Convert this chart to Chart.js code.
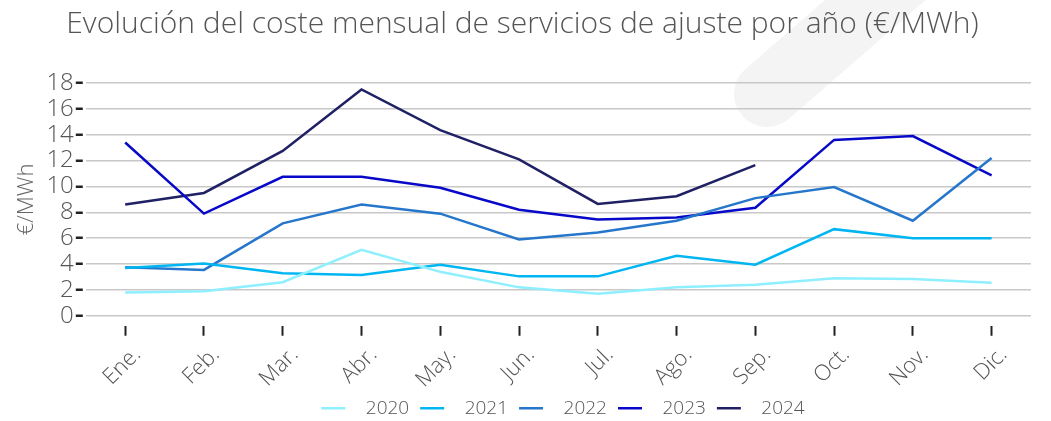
<!DOCTYPE html>
<html>
<head>
<meta charset="utf-8">
<script src="https://cdn.jsdelivr.net/npm/chart.js@4"></script>
<style>
    html,body{margin:0;padding:0;background:#fff;}
    #wrap{width:1051px;height:421px;}
</style>
</head>
<body>
<div id="wrap"><canvas id="costChart" width="1051" height="421"></canvas></div>
<script>
const months=["Ene.","Feb.","Mar.","Abr.","May.","Jun.","Jul.","Ago.","Sep.","Oct.","Nov.","Dic."];
const years=["2020","2021","2022","2023","2024"];
const v2020=[1.8,1.9,2.6,5.1,3.4,2.2,1.7,2.2,2.4,2.9,2.85,2.55];
const v2021=[3.7,4.05,3.3,3.15,3.95,3.05,3.05,4.65,3.95,6.7,6.0,6.0];
const v2022=[3.75,3.55,7.15,8.6,7.9,5.9,6.45,7.35,9.1,9.95,7.35,12.2];
const v2023=[13.4,7.9,10.75,10.75,9.9,8.2,7.45,7.6,8.35,13.6,13.9,10.85];
const v2024=[8.6,9.5,12.75,17.5,14.35,12.1,8.65,9.25,11.65,null,null,null];
const colors=["#8eefff","#00b6f2","#2677cc","#0808c8","#202064"];

// legend marker: short line with some empty room around it (sets the item spacing)
function legendLine(color){
    const c=document.createElement("canvas");
    c.width=46;
    c.height=4;
    const g=c.getContext("2d");
    g.fillStyle=color;
    g.fillRect(11,0,24,3);
    return c;
}

// faint grey logo stroke behind the plot
const watermark={
    id:"watermark",
    beforeDraw(chart){
        const ctx=chart.ctx;
        ctx.save();
        ctx.strokeStyle="#f4f4f4";
        ctx.lineWidth=66;
        ctx.lineCap="round";
        ctx.beginPath();
        ctx.moveTo(767,94);
        ctx.lineTo(910,-30);
        ctx.stroke();
        ctx.restore();
    }
};

const shiftLegend={
    id:"shiftLegend",
    afterLayout(chart){
        chart.legend.left+=35;
        chart.legend.right+=35;
    }
};

const lightFont="'Open Sans', sans-serif";

new Chart(
    document.getElementById("costChart"),
    {
        type:"line",
        data:{
            labels:months,
            datasets:[v2020,v2021,v2022,v2023,v2024].map((vals,i)=>({
                label:years[i],
                data:vals,
                borderColor:colors[i],
                backgroundColor:colors[i],
                pointStyle:legendLine(colors[i]),
                borderWidth:2.5,
                pointRadius:0,
                tension:0,
                spanGaps:false
            }))
        },
        options:{
            responsive:false,
            animation:false,
            layout:{
                padding:{left:14,right:20,top:0,bottom:-7}
            },
            plugins:{
                title:{
                    display:true,
                    text:"Evolución del coste mensual de servicios de ajuste por año (€/MWh)",
                    color:"#555",
                    font:{family:lightFont,size:30,weight:"300"},
                    padding:{top:6,bottom:41}
                },
                legend:{
                    position:"bottom",
                    labels:{
                        usePointStyle:true,
                        pointStyleWidth:46,
                        boxHeight:4,
                        color:"#555",
                        font:{family:lightFont,size:19,weight:"300"},
                        padding:0
                    }
                },
                tooltip:{enabled:false}
            },
            scales:{
                x:{
                    offset:true,
                    border:{display:false},
                    grid:{
                        drawOnChartArea:false,
                        tickLength:20,
                        tickColor:"#222",
                        tickWidth:2,
                        tickBorderDash:[0,10,10]
                    },
                    ticks:{
                        color:"#555",
                        font:{family:lightFont,size:22,weight:"300"},
                        minRotation:45,
                        maxRotation:45,
                        labelOffset:12,
                        padding:6
                    }
                },
                y:{
                    min:0,
                    max:18,
                    border:{display:false},
                    grid:{
                        color:"#c8c8c8",
                        lineWidth:1.5,
                        tickLength:10,
                        tickColor:"#222",
                        tickWidth:2.5,
                        tickBorderDash:[7,10]
                    },
                    ticks:{
                        stepSize:2,
                        autoSkip:false,
                        color:"#555",
                        font:{family:lightFont,size:24,weight:"300"},
                        padding:2
                    },
                    title:{
                        display:true,
                        text:"€/MWh",
                        color:"#666",
                        font:{family:lightFont,size:22,weight:"300"},
                        padding:{top:0,bottom:4}
                    }
                }
            }
        },
        plugins:[watermark,shiftLegend]
    }
);
</script>
</body>
</html>
